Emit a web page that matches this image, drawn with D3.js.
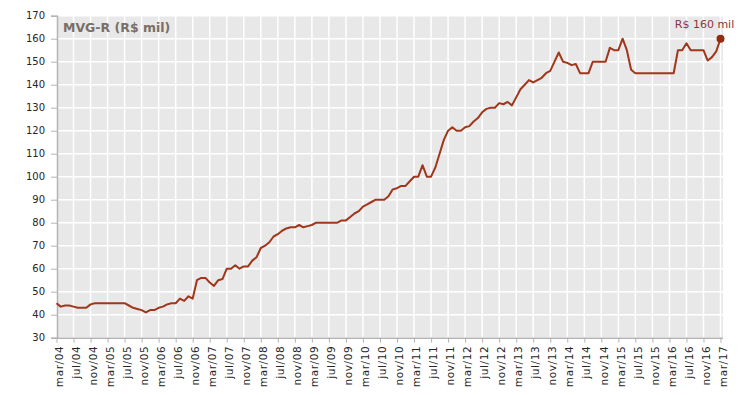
<!DOCTYPE html>
<html>
<head>
<meta charset="utf-8">
<script src="https://cdn.jsdelivr.net/npm/d3@7"></script>
<style>
	body { margin: 0; background: #fff; }
	svg { display: block; font-family: 'DejaVu Sans', sans-serif; }
</style>
</head>
<body>
<div id="chart"></div>
<script>
// monthly series, mar/04 .. mar/17
const monthNames = ['jan', 'fev', 'mar', 'abr', 'mai', 'jun', 'jul', 'ago', 'set', 'out', 'nov', 'dez'];

const values = [
	45, 43.5, 44, 44, 43.5, 43, 43, 43, 44.5, 45,                  // 2004 (mar-dez)
	45, 45, 45, 45, 45, 45, 45, 44, 43, 42.5, 42, 41,              // 2005
	42, 42, 43, 43.5, 44.5, 45, 45, 47, 46, 48, 47, 55,            // 2006
	56, 56, 54, 52.5, 55, 55.5, 60, 60, 61.5, 60, 61, 61,          // 2007
	63.5, 65, 69, 70, 71.5, 74, 75, 76.5, 77.5, 78, 78, 79,        // 2008
	78, 78.5, 79, 80, 80, 80, 80, 80, 80, 81, 81, 82.5,            // 2009
	84, 85, 87, 88, 89, 90, 90, 90, 91.5, 94.5, 95, 96,            // 2010
	96, 98, 100, 100, 105, 100, 100, 104, 110, 116, 120, 121.5,    // 2011
	120, 120, 121.5, 122, 124, 125.5, 128, 129.5, 130, 130, 132, 131.5, // 2012
	132.5, 131, 134.5, 138, 140, 142, 141, 142, 143, 145, 146, 150, // 2013
	154, 150, 149.5, 148.5, 149, 145, 145, 145, 150, 150, 150, 150, // 2014
	156, 155, 155, 160, 155, 146.5, 145, 145, 145, 145, 145, 145,  // 2015
	145, 145, 145, 145, 155, 155, 158, 155, 155, 155, 155, 150.5,  // 2016
	152, 154.5, 160                                                 // 2017 (jan-mar)
];

// categories "mar/04" ... "mar/17"
const categories = values.map((v, i) => {
	const m = (2 + i) % 12;
	const yr = 4 + Math.floor((2 + i) / 12);
	return monthNames[m] + '/' + String(yr).padStart(2, '0');
});

const tickLabels = categories.filter((c, i) => i % 4 === 0);
const yTicks = d3.range(30, 171, 10);

const title = 'MVG-R (R$ mil)';
const lastLabel = 'R$ 160 mil';

const width = 756;
const height = 395;
const plot = { left: 57, right: 723, top: 15.7, bottom: 337.7 };

const svg = d3.select('#chart')
	.append('svg')
	.attr('width', width)
	.attr('height', height);

const x = d3.scalePoint()
	.domain(categories)
	.range([56.5, 720.5]);

const y = d3.scaleLinear()
	.domain([30, 170])
	.range([plot.bottom, plot.top]);

// plot background
svg.append('rect')
	.attr('x', plot.left)
	.attr('y', plot.top)
	.attr('width', plot.right - plot.left)
	.attr('height', plot.bottom - plot.top)
	.attr('fill', '#e8e8e8');

// gridlines
svg.append('g')
	.selectAll('line')
	.data(yTicks)
	.join('line')
	.attr('x1', plot.left)
	.attr('x2', plot.right)
	.attr('y1', (d) => y(d))
	.attr('y2', (d) => y(d))
	.attr('stroke', '#fff')
	.attr('stroke-width', 1.5);

svg.append('g')
	.selectAll('line')
	.data(tickLabels.slice(1))
	.join('line')
	.attr('x1', (d) => x(d))
	.attr('x2', (d) => x(d))
	.attr('y1', plot.top)
	.attr('y2', plot.bottom)
	.attr('stroke', '#fff')
	.attr('stroke-width', 1.5);

// y axis
const yAxis = svg.append('g')
	.attr('transform', `translate(${plot.left},0)`)
	.call(d3.axisLeft(y).tickValues(yTicks).tickSize(6).tickPadding(6));

yAxis.select('.domain').attr('stroke', '#b4b4b4').attr('stroke-width', 1.5);
yAxis.selectAll('.tick line').attr('stroke', '#b4b4b4');
yAxis.selectAll('.tick text')
	.attr('font-size', 10)
	.attr('font-family', 'DejaVu Sans')
	.attr('fill', '#262626');

// x axis
const xAxis = svg.append('g')
	.attr('transform', `translate(0,${plot.bottom})`)
	.call(d3.axisBottom(x).tickValues(tickLabels).tickSize(5).tickSizeOuter(0));

xAxis.select('.domain')
	.attr('d', `M${plot.left},0.5H${plot.right}`)
	.attr('stroke', '#b4b4b4')
	.attr('stroke-width', 1.5);
xAxis.selectAll('.tick line').attr('stroke', '#b4b4b4');
xAxis.selectAll('.tick text')
	.attr('font-size', 10.5)
	.attr('font-family', 'DejaVu Sans')
	.attr('letter-spacing', 0.6)
	.attr('fill', '#262626')
	.attr('text-anchor', 'end')
	.attr('transform', 'rotate(-90)')
	.attr('x', -8)
	.attr('y', 2)
	.attr('dy', '0.35em');

// line
const line = d3.line()
	.x((d, i) => x(categories[i]))
	.y((d) => y(d));

svg.append('path')
	.datum(values)
	.attr('d', line)
	.attr('fill', 'none')
	.attr('stroke', '#a0361b')
	.attr('stroke-width', 2)
	.attr('stroke-linejoin', 'round');

// last point marker + label
const lastCat = categories[categories.length - 1];
const lastVal = values[values.length - 1];

svg.append('circle')
	.attr('cx', x(lastCat))
	.attr('cy', y(lastVal))
	.attr('r', 4)
	.attr('fill', '#982a12');

svg.append('text')
	.attr('x', x(lastCat) - 16)
	.attr('y', y(lastVal) - 11)
	.attr('text-anchor', 'middle')
	.attr('font-size', 11)
	.attr('fill', '#8e3340')
	.text(lastLabel);

// title
svg.append('text')
	.attr('x', 63)
	.attr('y', 31.5)
	.attr('font-size', 12.5)
	.attr('font-weight', 'bold')
	.attr('fill', '#7a6e66')
	.text(title);
</script>
</body>
</html>
